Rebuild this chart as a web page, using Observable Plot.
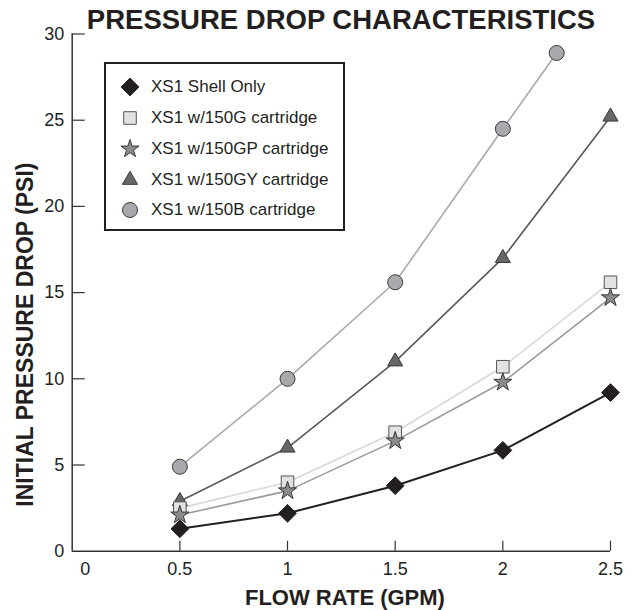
<!DOCTYPE html>
<html>
<head>
<meta charset="utf-8">
<script src="https://cdn.jsdelivr.net/npm/d3@7"></script>
<script src="https://cdn.jsdelivr.net/npm/@observablehq/plot@0.6"></script>
<style>
  html, body { margin: 0; padding: 0; background: white; }
  #wrap { position: relative; width: 642px; height: 610px; font-family: "Liberation Sans", Arial, sans-serif; color: #222; }
  #title { position: absolute; left: 0; top: 6px; width: 682px; text-align: center; font-weight: bold; font-size: 27.5px; line-height: 27px; color: #231f20; white-space: nowrap; }
  #legend { position: absolute; left: 104px; top: 62px; width: 237px; height: 165px; border: 2px solid #231f20; background: white; }
  .row { position: absolute; left: 0; height: 30px; line-height: 30px; font-size: 17px; white-space: nowrap; color: #231f20; }
  .row svg { position: absolute; left: 13px; top: 4px; }
  .row span { position: absolute; left: 45px; top: 0; }
</style>
</head>
<body>
<div id="wrap">
  <div id="chart"></div>
  <div id="title">PRESSURE DROP CHARACTERISTICS</div>
  <div id="legend"></div>
</div>
<script>
// ---- data ----
const seriesNames = ["XS1 Shell Only", "XS1 w/150G cartridge", "XS1 w/150GP cartridge", "XS1 w/150GY cartridge", "XS1 w/150B cartridge"];
const flowRate  = [0.5, 1, 1.5, 2, 2.5];
const flowRateB = [0.5, 1, 1.5, 2, 2.25];
const shellOnly = [1.3, 2.2, 3.8, 5.85, 9.2];
const g150      = [2.5, 4.0, 6.9, 10.7, 15.6];
const gp150     = [2.1, 3.5, 6.4, 9.8, 14.7];
const gy150     = [2.9, 6.0, 11.0, 17.0, 25.2];
const b150      = [4.9, 10.0, 15.6, 24.5, 28.9];
const xTicks = [0, 0.5, 1, 1.5, 2, 2.5];
const yTicks = [0, 5, 10, 15, 20, 25, 30];
const titleText = "PRESSURE DROP CHARACTERISTICS";
const xLabel = "FLOW RATE (GPM)";
const yLabel = "INITIAL PRESSURE DROP (PSI)";

// ---- styles ----
const styles = [
  {symbol: "diamond2", r: 8.0, fill: "#231f20", stroke: "#231f20", line: "#231f20", lw: 2},
  {symbol: "square",   r: 7.1, fill: "#e2e2e3", stroke: "#555",    line: "#d9d9d9", lw: 1.6},
  {symbol: "star",     r: 5.7, fill: "#8a8b8d", stroke: "#3a3a3a", line: "#999a9c", lw: 1.6},
  {symbol: "triangle", r: 5.6, fill: "#666768", stroke: "#3a3a3a", line: "#58595b", lw: 1.6},
  {symbol: "circle",   r: 7.5, fill: "#a7a9ac", stroke: "#3a3a3a", line: "#a7a9ac", lw: 1.6}
];
const xs = [flowRate, flowRate, flowRate, flowRate, flowRateB];
const ys = [shellOnly, g150, gp150, gy150, b150];
const table = seriesNames.map((name, i) => xs[i].map((x, j) => ({series: name, x, y: ys[i][j]})));

const W = 642, H = 610;
const mL = 71.7, mR = 32, mT = 33.5, mB = 59.3;
const innerW = W - mL - mR, innerH = H - mT - mB;
const drawOrder = [4, 3, 1, 2, 0];

const marks = [
  Plot.ruleY([0], {stroke: "#333", strokeWidth: 1.5}),
  Plot.ruleX([0], {stroke: "#333", strokeWidth: 1.5}),
  Plot.tickX(xTicks.filter(d => d > 0), {x: d => d, insetTop: innerH - 10, stroke: "#333", strokeWidth: 1.2}),
  Plot.tickY(yTicks.filter(d => d > 0), {y: d => d, insetRight: innerW - 13, stroke: "#333", strokeWidth: 1.2}),
  Plot.axisX({ticks: xTicks.filter(d => d > 0), tickSize: 0, tickPadding: 11, fontSize: 18, label: null, tickFormat: d => String(d)}),
  Plot.text(xTicks.filter(d => d === 0), {x: d => d, text: d => String(d), frameAnchor: "bottom", lineAnchor: "top", dy: 11, dx: 13, fontSize: 18, fill: "#231f20"}),
  Plot.axisY({ticks: yTicks, tickSize: 0, tickPadding: 8, fontSize: 18, label: null}),
  Plot.text([xLabel], {text: d => d, frameAnchor: "bottom", textAnchor: "middle", lineAnchor: "middle", dy: 46.5, dx: 3.6, fontSize: 22, fontWeight: "bold", fill: "#231f20"}),
  Plot.text([yLabel], {text: d => d, frameAnchor: "left", textAnchor: "middle", lineAnchor: "middle", rotate: -90, dx: -46.5, dy: 42, fontSize: 23, fontWeight: "bold", fill: "#231f20"})
];
for (const i of drawOrder) {
  const s = styles[i];
  marks.push(Plot.line(table[i], {x: "x", y: "y", stroke: s.line, strokeWidth: s.lw}));
}
for (const i of drawOrder) {
  const s = styles[i];
  marks.push(Plot.dot(table[i], {x: "x", y: "y", symbol: s.symbol, r: s.r, fill: s.fill, stroke: s.stroke, strokeWidth: 1}));
}

const chart = Plot.plot({
  width: W, height: H,
  marginLeft: mL, marginRight: mR, marginTop: mT, marginBottom: mB,
  x: {domain: [0, 2.5]},
  y: {domain: [0, 30]},
  style: {fontFamily: "'Liberation Sans', Arial, sans-serif", color: "#231f20", background: "white", overflow: "visible"},
  marks
});
document.getElementById("chart").appendChild(chart);

// ---- legend ----
const legend = document.getElementById("legend");
const symMap = {circle: d3.symbolCircle, square: d3.symbolSquare, star: d3.symbolStar, triangle: d3.symbolTriangle, diamond2: d3.symbolDiamond2};
const rowCenters = [23, 54, 85, 116, 146];
seriesNames.forEach((name, i) => {
  const s = styles[i];
  const row = document.createElement("div");
  row.className = "row";
  row.style.top = (rowCenters[i] - 15) + "px";
  const svg = d3.create("svg").attr("width", 22).attr("height", 22);
  svg.append("path")
    .attr("transform", "translate(11,11)")
    .attr("d", d3.symbol(symMap[s.symbol], s.r * s.r * Math.PI)())
    .attr("fill", s.fill).attr("stroke", s.stroke).attr("stroke-width", 1);
  row.appendChild(svg.node());
  const span = document.createElement("span");
  span.textContent = name;
  row.appendChild(span);
  legend.appendChild(row);
});
</script>
</body>
</html>
